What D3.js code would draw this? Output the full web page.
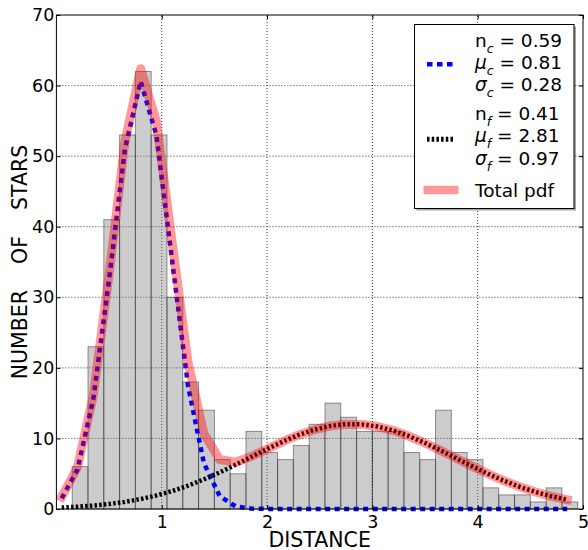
<!DOCTYPE html>
<html>
<head>
<meta charset="utf-8">
<script src="https://cdn.jsdelivr.net/npm/d3@7"></script>
<style>
  html, body { margin: 0; padding: 0; background: #fff; }
  svg { display: block; font-family: "DejaVu Sans", sans-serif; }
</style>
</head>
<body>
<svg id="chart" width="588" height="550"></svg>
<script>
// Histogram of star distances: bins of width 0.15 starting at 0.15
const binStart = 0.15;
const binWidth = 0.15;
const counts = [6, 23, 41, 53, 62, 53, 30, 18, 14, 7, 5, 11, 8, 7, 9, 12,
                15, 13, 11, 11, 11, 8, 7, 14, 8, 7, 3, 2, 2, 1, 3, 1];

// Model curves sampled along the distance axis
const pdfX = [0.05, 0.20, 0.35, 0.50, 0.65, 0.80, 0.95, 1.10, 1.25, 1.40, 1.55,
              1.70, 1.85, 2.00, 2.15, 2.30, 2.45, 2.60, 2.75, 2.90, 3.05, 3.20,
              3.35, 3.50, 3.65, 3.80, 3.95, 4.10, 4.25, 4.40, 4.55, 4.70, 4.85];
const coreY = [1.51, 5.59, 15.56, 32.51, 50.96, 60.6, 52.95, 35.09, 17.46, 6.52, 1.83,
               0.38, 0.06, 0.01, 0, 0, 0, 0, 0, 0, 0, 0,
               0, 0, 0, 0, 0, 0, 0, 0, 0, 0, 0];
const fieldY = [0.21, 0.32, 0.48, 0.71, 1.01, 1.41, 1.92, 2.55, 3.30, 4.19, 5.18,
                6.26, 7.38, 8.50, 9.55, 10.49, 11.24, 11.76, 12.02, 11.99, 11.68, 11.11,
                10.31, 9.35, 8.28, 7.15, 6.04, 4.97, 4.00, 3.14, 2.41, 1.80, 1.32];
const totalY = [1.72, 5.91, 16.04, 33.22, 51.97, 62.4, 54.87, 37.64, 20.76, 10.71, 7.01,
                6.64, 7.44, 8.51, 9.55, 10.49, 11.24, 11.76, 12.02, 11.99, 11.68, 11.11,
                10.31, 9.35, 8.28, 7.15, 6.04, 4.97, 4.00, 3.14, 2.41, 1.80, 1.32];

// Axis ticks and labels
const xTicks = [1, 2, 3, 4, 5];
const yTicks = [0, 10, 20, 30, 40, 50, 60, 70];
const xLabel = "DISTANCE";
const yLabel = "NUMBER    OF    STARS";

// Legend entries: fit parameters for the core (c) and field (f) components
const coreParams = [["n", "c", "0.59"], ["\u03bc", "c", "0.81"], ["\u03c3", "c", "0.28"]];
const fieldParams = [["n", "f", "0.41"], ["\u03bc", "f", "2.81"], ["\u03c3", "f", "0.97"]];
const totalLabel = "Total pdf";

const svg = d3.select("#chart");
const margin = { left: 56.4, right: 5, top: 15, bottom: 41 };
const W = 588, H = 550;
const x = d3.scaleLinear().domain([0, 5]).range([margin.left, W - margin.right]);
const y = d3.scaleLinear().domain([0, 70]).range([H - margin.bottom, margin.top]);

// Dotted grid
const grid = svg.append("g").attr("stroke", "#000").attr("stroke-width", 0.8)
  .attr("stroke-dasharray", "1,2");
grid.selectAll("line.gx").data(xTicks.filter(t => t > 0 && t < 5)).join("line")
  .attr("x1", d => x(d)).attr("x2", d => x(d))
  .attr("y1", y(0)).attr("y2", y(70));
grid.selectAll("line.gy").data(yTicks.filter(t => t > 0 && t < 70)).join("line")
  .attr("x1", x(0)).attr("x2", x(5))
  .attr("y1", d => y(d)).attr("y2", d => y(d));

// Histogram bars
const bins = counts.map((c, i) => ({ x0: binStart + i * binWidth, x1: binStart + (i + 1) * binWidth, c }));
svg.append("g").selectAll("rect").data(bins).join("rect")
  .attr("x", d => x(d.x0)).attr("width", d => x(d.x1) - x(d.x0))
  .attr("y", d => y(d.c)).attr("height", d => y(0) - y(d.c))
  .attr("fill", "#808080").attr("fill-opacity", 0.4)
  .attr("stroke", "#000").attr("stroke-opacity", 0.4).attr("stroke-width", 1);

// Curves
const line = ys => d3.line().x((d, i) => x(pdfX[i])).y(d => y(d))(ys);
svg.append("path").attr("d", line(coreY)).attr("fill", "none")
  .attr("stroke", "#0000ff").attr("stroke-width", 4.5)
  .attr("stroke-dasharray", "5,4.5").attr("stroke-linejoin", "round");
svg.append("path").attr("d", line(fieldY)).attr("fill", "none")
  .attr("stroke", "#000").attr("stroke-width", 4.5)
  .attr("stroke-dasharray", "2.5,2.2").attr("stroke-linejoin", "round");
svg.append("path").attr("d", line(totalY)).attr("fill", "none")
  .attr("stroke", "#ff0000").attr("stroke-opacity", 0.4).attr("stroke-width", 9)
  .attr("stroke-linejoin", "round").attr("stroke-linecap", "square");

// Axes (ticks point inward)
const tickFont = 17.5;
const axB = svg.append("g").attr("transform", `translate(0,${y(0)})`)
  .call(d3.axisBottom(x).tickValues(xTicks).tickSize(-4).tickPadding(6.5).tickFormat(d3.format("d")));
const axL = svg.append("g").attr("transform", `translate(${x(0)},0)`)
  .call(d3.axisLeft(y).tickValues(yTicks).tickSize(-4).tickPadding(2).tickFormat(d3.format("d")));
const axT = svg.append("g").attr("transform", `translate(0,${y(70)})`)
  .call(d3.axisTop(x).tickValues(xTicks).tickSize(-4).tickFormat(""));
const axR = svg.append("g").attr("transform", `translate(${x(5)},0)`)
  .call(d3.axisRight(y).tickValues(yTicks).tickSize(-4).tickFormat(""));
[axB, axL, axT, axR].forEach(a => {
  a.select(".domain").remove();
  a.selectAll("line").attr("stroke", "#000");
  a.selectAll("text").attr("font-size", tickFont).attr("fill", "#000")
    .attr("font-family", "DejaVu Sans, sans-serif");
});

// Frame
svg.append("rect").attr("x", x(0)).attr("y", y(70))
  .attr("width", x(5) - x(0)).attr("height", y(0) - y(70))
  .attr("fill", "none").attr("stroke", "#000").attr("stroke-width", 1);

// Axis titles
svg.append("text").attr("x", (x(0) + x(5)) / 2).attr("y", 546.5)
  .attr("text-anchor", "middle").attr("font-size", 20.5).text(xLabel);
svg.append("text").attr("transform", `translate(26.5,${(y(0) + y(70)) / 2}) rotate(-90)`)
  .attr("text-anchor", "middle").attr("font-size", 20.5)
  .style("white-space", "pre").text(yLabel);

// Legend
const lg = svg.append("g");
const box = { x: 414.5, y: 24.5, w: 159.5, h: 184 };
lg.append("rect").attr("x", box.x + 2).attr("y", box.y + 2).attr("width", box.w).attr("height", box.h)
  .attr("fill", "#000").attr("fill-opacity", 0.35);
lg.append("rect").attr("x", box.x).attr("y", box.y).attr("width", box.w).attr("height", box.h)
  .attr("fill", "#fff").attr("stroke", "#000").attr("stroke-width", 1);

const legFont = 18.5;
function paramLines(params, baselines) {
  params.forEach((p, i) => {
    const t = lg.append("text").attr("x", 475).attr("y", baselines[i]).attr("font-size", legFont);
    t.append("tspan").attr("font-style", p[0] === "n" ? "normal" : "italic").text(p[0]);
    t.append("tspan").attr("font-style", "italic").attr("font-size", 12.5).attr("dy", 6).text(p[1]);
    t.append("tspan").attr("dy", -6).text(" = " + p[2]);
  });
}
paramLines(coreParams, [46.7, 69.3, 91.3]);
paramLines(fieldParams, [120, 142.3, 164.5]);
lg.append("text").attr("x", 475).attr("y", 196.7).attr("font-size", legFont).text(totalLabel);

const hx0 = 427, hx1 = 454;
lg.append("line").attr("x1", hx0).attr("x2", hx1).attr("y1", 64.3).attr("y2", 64.3)
  .attr("stroke", "#0000ff").attr("stroke-width", 4.5).attr("stroke-dasharray", "5.5,4.5");
lg.append("line").attr("x1", hx0).attr("x2", hx1).attr("y1", 139.3).attr("y2", 139.3)
  .attr("stroke", "#000").attr("stroke-width", 5).attr("stroke-dasharray", "2.5,2.2");
lg.append("line").attr("x1", 423.5).attr("x2", 458.5).attr("y1", 190).attr("y2", 190)
  .attr("stroke", "#ff0000").attr("stroke-opacity", 0.4).attr("stroke-width", 8.5);
</script>
</body>
</html>
